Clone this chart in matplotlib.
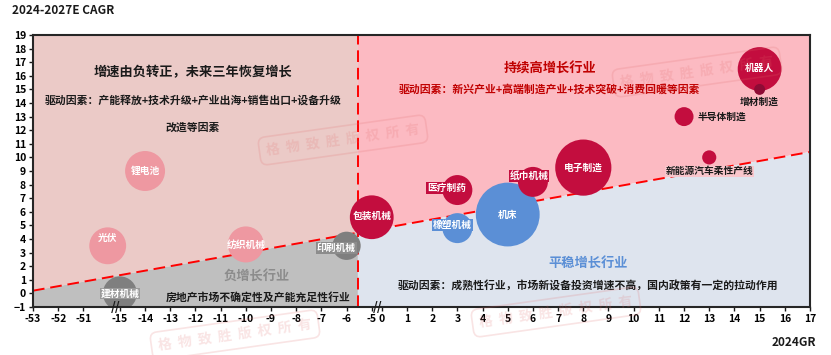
import numpy as np
import matplotlib
matplotlib.use("Agg")
import matplotlib.pyplot as plt
from matplotlib.patches import Polygon

plt.rcParams['font.family'] = ['Noto Sans CJK SC', 'DejaVu Sans']

# Data
industries = ['锂电池', '光伏', '纺织机械', '建材机械', '印刷机械', '包装机械', '医疗制药', '橡塑机械',
              '机床', '纸巾机械', '电子制造', '新能源汽车柔性产线', '机器人', '增材制造', '半导体制造']
gr_2024 = [-14, -27, -10, -15, -6, -5, 3, 3, 5, 6, 8, 13, 15, 15, 12]
cagr_2027 = [9.0, 3.5, 3.6, 0.0, 3.5, 5.6, 7.6, 4.8, 5.8, 8.2, 9.25, 10.0, 16.5, 15.0, 13.0]
bubble_size = [400, 340, 325, 290, 200, 480, 225, 225, 1020, 225, 790, 50, 480, 30, 90]
group = ['recover', 'recover', 'recover', 'negative', 'negative', 'high', 'high', 'stable',
         'stable', 'high', 'high', 'high', 'high', 'high_dark', 'high']

x_ticks = [-53, -52, -51, -15, -14, -13, -12, -11, -10, -9, -8, -7, -6, -5,
           0, 1, 2, 3, 4, 5, 6, 7, 8, 9, 10, 11, 12, 13, 14, 15, 16, 17]
y_ticks = list(range(-1, 20))

# Colours
group_color = {'recover': '#EE98A1', 'negative': '#7F7F7F', 'high': '#C30D3E',
               'high_dark': '#8E0B35', 'stable': '#5B8FD6'}
bg_left_top = '#EBCAC7'
bg_left_bottom = '#BFBFBF'
bg_right_top = '#FCBAC2'
bg_right_bottom = '#DEE4EE'
red = '#FF0000'

# broken x axis: piecewise linear scale
bp_real = [-153, -53, -51, -15, -5, 0, 17, 117]
bp_pos = [-100, 0, 2, 3.45, 13.45, 13.85, 30.85, 130.85]


def fwd(x):
    return np.interp(x, bp_real, bp_pos)


def inv(p):
    return np.interp(p, bp_pos, bp_real)


fig = plt.figure(figsize=(8.31, 3.55), dpi=100)
ax = fig.add_axes([0.0397, 0.1352, 0.9350, 0.7662])
ax.set_xscale('function', functions=(fwd, inv))
ax.set_xlim(-53, 17)
ax.set_ylim(-1, 19)

# quadrant backgrounds (x in axes fraction, y in data)
split_x = -5.55
fs = (fwd(split_x) - fwd(-53)) / (fwd(17) - fwd(-53))
y0, y1 = 0.2, 10.4
ys = y0 + (y1 - y0) * fs
tr = ax.get_yaxis_transform()
for pts, c in [([(0, y0), (fs, ys), (fs, 19), (0, 19)], bg_left_top),
               ([(0, -1), (fs, -1), (fs, ys), (0, y0)], bg_left_bottom),
               ([(fs, ys), (1, y1), (1, 19), (fs, 19)], bg_right_top),
               ([(fs, -1), (1, -1), (1, y1), (fs, ys)], bg_right_bottom)]:
    ax.add_patch(Polygon(pts, closed=True, facecolor=c, edgecolor='none', transform=tr, zorder=0))

ax.plot([0, 1], [y0, y1], transform=tr, color=red, lw=1.4, ls=(0, (6, 3)), zorder=1)
ax.axvline(split_x, color=red, lw=1.4, ls=(0, (6, 3)), zorder=1)

# bubbles
colors = [group_color[g] for g in group]
sizes = np.array(bubble_size) * 2.07
ax.scatter(gr_2024, cagr_2027, s=sizes, c=colors, edgecolors='none', zorder=3)

# label styles: (dx px, dy px, text colour, box colour, ha)
label_style = {
    '锂电池': (0, 0, 'white', None, 'center'),
    '光伏': (0, 8, 'white', None, 'center'),
    '纺织机械': (0, 0, 'white', None, 'center'),
    '建材机械': (0, 0, 'white', '#9A9A9A', 'center'),
    '印刷机械': (-10, -2, 'white', '#8C8C8C', 'center'),
    '包装机械': (0, 1, 'white', None, 'center'),
    '医疗制药': (-11, 2, 'white', '#C30D3E', 'center'),
    '橡塑机械': (-5, 3, 'white', '#5B8FD6', 'center'),
    '机床': (0, 0, 'white', None, 'center'),
    '纸巾机械': (-4, 6, 'white', '#C30D3E', 'center'),
    '电子制造': (0, 0, 'white', None, 'center'),
    '新能源汽车柔性产线': (0, -14, '#1A1A1A', '#F9C6CC', 'center'),
    '机器人': (0, 1, 'white', None, 'center'),
    '增材制造': (0, -12, '#1A1A1A', None, 'center'),
    '半导体制造': (14, 0, '#1A1A1A', None, 'left'),
}
for name, x, y in zip(industries, gr_2024, cagr_2027):
    dx, dy, tc, bc, ha = label_style[name]
    bbox = dict(boxstyle='square,pad=0.08', fc=bc, ec='none') if bc else None
    ax.annotate(name, (x, y), xytext=(dx * 0.72, dy * 0.72), textcoords='offset points',
                ha=ha, va='center', fontsize=7, fontweight='bold', color=tc, bbox=bbox, zorder=4)

# quadrant texts
ax.text(-12.1, 16.25, '增速由负转正，未来三年恢复增长', ha='center', va='center',
        fontsize=9.5, fontweight='bold', color='#1A1A1A', zorder=2)
ax.text(-12.1, 14.2, '驱动因素：产能释放+技术升级+产业出海+销售出口+设备升级', ha='center', va='center',
        fontsize=7.8, fontweight='bold', color='#1A1A1A', zorder=2)
ax.text(-12.1, 12.2, '改造等因素', ha='center', va='center',
        fontsize=7.8, fontweight='bold', color='#1A1A1A', zorder=2)
ax.text(6.67, 16.5, '持续高增长行业', ha='center', va='center',
        fontsize=9.5, fontweight='bold', color='#C00000', zorder=2)
ax.text(6.67, 15.0, '驱动因素：新兴产业+高端制造产业+技术突破+消费回暖等因素', ha='center', va='center',
        fontsize=7.8, fontweight='bold', color='#C00000', zorder=2)
ax.text(-9.56, 1.25, '负增长行业', ha='center', va='center',
        fontsize=9.5, fontweight='bold', color='#8C8C8C', zorder=2)
ax.text(-9.5, -0.3, '房地产市场不确定性及产能充足性行业', ha='center', va='center',
        fontsize=7.8, fontweight='bold', color='#1A1A1A', zorder=2)
ax.text(8.18, 2.2, '平稳增长行业', ha='center', va='center',
        fontsize=9.5, fontweight='bold', color='#5B8FD6', zorder=2)
ax.text(8.2, 0.6, '驱动因素：成熟性行业，市场新设备投资增速不高，国内政策有一定的拉动作用',
        ha='center', va='center', fontsize=7.8, fontweight='bold', color='#1A1A1A', zorder=2)

# axes styling
ax.set_xticks(x_ticks)
ax.set_xticklabels([str(v) for v in x_ticks])
ax.set_yticks(y_ticks)
ax.tick_params(axis='both', direction='out', length=3, width=1, labelsize=7.5, pad=2, color='#1A1A1A')
for lab in ax.get_xticklabels() + ax.get_yticklabels():
    lab.set_fontweight('bold')
for sp in ax.spines.values():
    sp.set_linewidth(1.5)
    sp.set_color('#262626')
    sp.set_zorder(5)

# axis break marks
for bx in [-19, -1.9]:
    ax.text(bx, 0, '//', transform=ax.get_xaxis_transform(), ha='center', va='center',
            fontsize=9, fontweight='bold', color='#1A1A1A', clip_on=False, zorder=6)

fig.text(12 / 831, 1 - 11 / 355, '2024-2027E CAGR', ha='left', va='center',
         fontsize=8.5, fontweight='bold', color='#1A1A1A')
fig.text(816 / 831, 1 - 343 / 355, '2024GR', ha='right', va='center',
         fontsize=8.5, fontweight='bold', color='#1A1A1A')

# watermark stamps
for wx, wy in [(343, 140), (697, 72), (556, 312), (235, 335)]:
    fig.text(wx / 831, 1 - wy / 355, '格  物  致  胜  版  权  所  有', ha='center', va='center',
             rotation=8, fontsize=10, fontweight='bold', color='#E06A6A', alpha=0.18,
             bbox=dict(boxstyle='round,pad=0.5', fc='none', ec='#E06A6A', lw=1.2, alpha=0.18))

fig.savefig('out.png', dpi=100)
